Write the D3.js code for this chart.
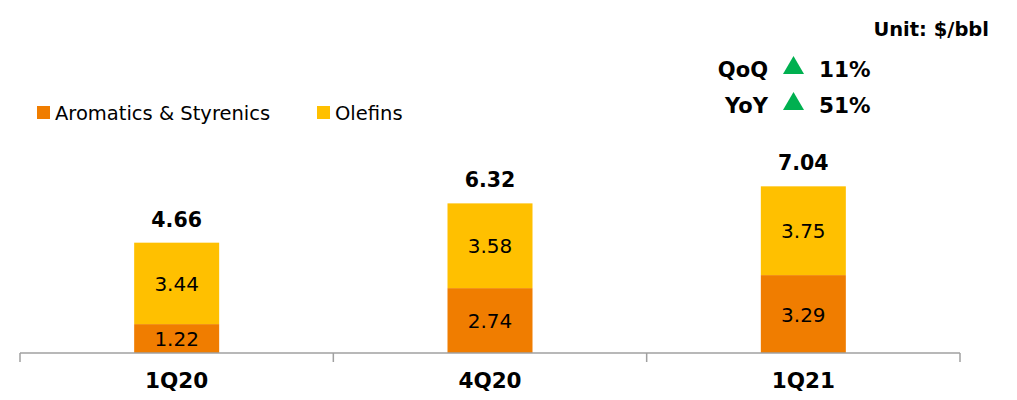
<!DOCTYPE html>
<html>
<head>
<meta charset="utf-8">
<script src="https://cdn.jsdelivr.net/npm/d3@7"></script>
<style>
  body { margin: 0; background: #fff; }
  svg { display: block; font-family: 'DejaVu Sans', Verdana, sans-serif; }
</style>
</head>
<body>
<div></div>
<script>
const categories = ['1Q20', '4Q20', '1Q21'];
const aromatics = [1.22, 2.74, 3.29];
const olefins = [3.44, 3.58, 3.75];
const totals = [4.66, 6.32, 7.04];
const seriesNames = ['Aromatics & Styrenics', 'Olefins'];
const seriesColors = ['#F07D00', '#FFC000'];
const changeLabels = ['QoQ', 'YoY'];
const changeValues = ['11%', '51%'];

const w = 1017;
const h = 400;

const svg = d3
  .select('body')
  .select('div')
  .append('svg')
  .attr('width', w)
  .attr('height', h);

const x = d3.scaleBand().domain(categories).range([20, 960]).paddingInner(0).paddingOuter(0);
const y = d3.scaleLinear().domain([0, 8]).range([353, 163.6]);
const barW = 85;

const rows = categories.map((c, i) => ({ cat: c, aro: aromatics[i], ole: olefins[i], total: totals[i] }));
const stack = d3.stack().keys(['aro', 'ole'])(rows);

// bars
stack.forEach((layer, li) => {
  const g = svg.append('g');
  g.selectAll('rect')
    .data(layer)
    .enter()
    .append('rect')
    .attr('x', (d) => x(d.data.cat) + x.bandwidth() / 2 - barW / 2)
    .attr('y', (d) => y(d[1]))
    .attr('width', barW)
    .attr('height', (d) => y(d[0]) - y(d[1]))
    .style('fill', seriesColors[li]);
  g.selectAll('text')
    .data(layer)
    .enter()
    .append('text')
    .attr('x', (d) => x(d.data.cat) + x.bandwidth() / 2)
    .attr('y', (d) => (y(d[0]) + y(d[1])) / 2)
    .attr('dy', '0.38em')
    .attr('text-anchor', 'middle')
    .style('font-size', '20px')
    .style('fill', '#000')
    .text((d) => d3.format('.2f')(d[1] - d[0]));
});

// totals
svg.append('g')
  .selectAll('text')
  .data(rows)
  .enter()
  .append('text')
  .attr('x', (d) => x(d.cat) + x.bandwidth() / 2)
  .attr('y', (d) => y(d.total) - 16)
  .attr('text-anchor', 'middle')
  .style('font-size', '20.5px')
  .style('font-weight', 'bold')
  .text((d) => d3.format('.2f')(d.total));

// axis
const axis = d3.axisBottom(x).tickSize(0).tickPadding(20);
const gx = svg.append('g').attr('transform', 'translate(0,353)').call(axis);
gx.select('.domain').remove();
gx.selectAll('text')
  .style('font-family', 'DejaVu Sans, Verdana, sans-serif')
  .style('font-size', '21.5px')
  .style('font-weight', 'bold')
  .style('fill', '#000');
gx.append('line')
  .attr('x1', x.range()[0])
  .attr('x2', x.range()[1])
  .attr('stroke', '#a0a0a0')
  .attr('stroke-width', 1.5);
const edges = categories.map((c) => x(c)).concat([x.range()[1]]);
gx.selectAll('.edge')
  .data(edges)
  .enter()
  .append('line')
  .attr('class', 'edge')
  .attr('x1', (d) => d)
  .attr('x2', (d) => d)
  .attr('y1', 0)
  .attr('y2', 9)
  .attr('stroke', '#a0a0a0')
  .attr('stroke-width', 1.5);

// legend
const legendX = [37, 317];
const legend = svg.append('g').selectAll('g')
  .data(seriesNames)
  .enter()
  .append('g')
  .attr('transform', (d, i) => `translate(${legendX[i]}, 106)`);
legend.append('rect')
  .attr('width', 13)
  .attr('height', 13)
  .style('fill', (d, i) => seriesColors[i]);
legend.append('text')
  .attr('x', 18)
  .attr('y', 13.5)
  .style('font-size', '19.5px')
  .text((d) => d);

// header
svg.append('text')
  .attr('x', 989)
  .attr('y', 36)
  .attr('text-anchor', 'end')
  .style('font-size', '19.5px')
  .style('font-weight', 'bold')
  .text('Unit: $/bbl');

const changeY = [77, 113];
const ch = svg.append('g').selectAll('g')
  .data(changeLabels)
  .enter()
  .append('g')
  .attr('transform', (d, i) => `translate(0, ${changeY[i]})`);
ch.append('text')
  .attr('x', 768)
  .attr('text-anchor', 'end')
  .style('font-size', '21px')
  .style('font-weight', 'bold')
  .text((d) => d);
ch.append('path')
  .attr('d', 'M783,-3 L804,-3 L793.5,-21 Z')
  .style('fill', '#00B050');
ch.append('text')
  .attr('x', 819)
  .style('font-size', '21.5px')
  .style('font-weight', 'bold')
  .text((d, i) => changeValues[i]);
</script>
</body>
</html>
